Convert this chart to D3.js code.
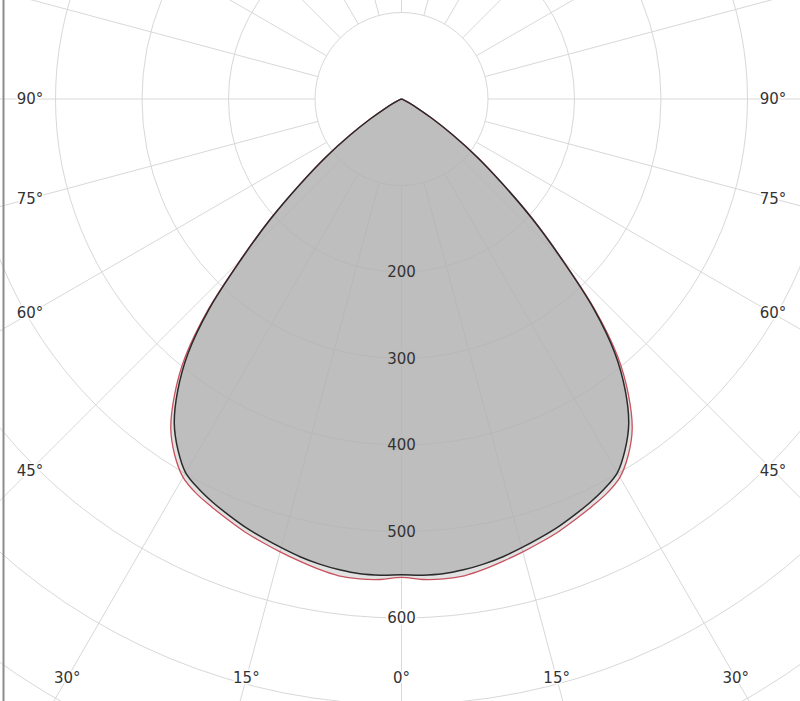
<!DOCTYPE html>
<html>
<head>
<meta charset="utf-8">
<script src="https://cdn.jsdelivr.net/npm/d3@7"></script>
<style>
  html, body { margin: 0; padding: 0; background: #fff; }
  svg { display: block; }
  text { font-family: "DejaVu Sans", Verdana, sans-serif; font-size: 15px; fill: #333; }
</style>
</head>
<body>
<svg id="chart" width="800" height="701"></svg>
<script>
// ---- data ----
const angles = [0, 2.5, 5, 7.5, 10, 12.5, 15, 17.5, 20, 22.5, 25, 27.5, 30, 32.5, 35, 37.5, 40,
                42.5, 45, 47.5, 50, 52.5, 55, 57.5, 60, 62.5, 65, 67.5, 70, 72.5, 75, 80, 85, 90];
// C0-C180 plane (black outline)
const planeBlack = [550, 551, 551, 549, 546, 542, 537, 532, 527, 521, 515, 508, 499, 481, 458, 425, 384,
                    329, 262, 205, 152, 110, 72, 42, 22, 11, 5, 2, 0, 0, 0, 0, 0, 0];
// C90-C270 plane (red outline)
const planeRed = [553, 556, 557, 556, 552, 547, 542, 537, 532, 526, 520, 514, 505, 488, 465, 431, 389,
                  332, 264, 207, 153, 111, 73, 43, 23, 12, 6, 3, 1, 0, 0, 0, 0, 0];
const ringValues = [100, 200, 300, 400, 500, 600, 700, 800, 900];
const ringLabels = [200, 300, 400, 500, 600];
const rayAngles = d3.range(0, 360, 15);
const angleLabels = [0, 15, 30, 45, 60, 75, 90];

// ---- layout ----
const W = 800, H = 701;
const cx = 401.5, cy = 99;
const r = d3.scaleLinear().domain([0, 100]).range([0, 86.5]);
const labelInsetX = 371.5, labelInsetY = 579;
const rad = d => d * Math.PI / 180;

const svg = d3.select("#chart");
const g = svg.append("g").attr("transform", `translate(${cx},${cy})`);

// grid rings
g.append("g").selectAll("circle").data(ringValues).join("circle")
  .attr("r", d => r(d)).attr("fill", "none")
  .attr("stroke", "#d8d8d8").attr("stroke-width", 1);

// grid rays (start at 100 ring), angle measured from nadir
g.append("g").selectAll("line").data(rayAngles).join("line")
  .attr("x1", d => r(100) * Math.sin(rad(d)))
  .attr("y1", d => r(100) * Math.cos(rad(d)))
  .attr("x2", d => 1000 * Math.sin(rad(d)))
  .attr("y2", d => 1000 * Math.cos(rad(d)))
  .attr("stroke", "#d8d8d8").attr("stroke-width", 1);

// curves
function pts(vals) {
  const left = angles.map((a, i) => [Math.PI + rad(a), r(vals[i])]).reverse();
  const right = angles.map((a, i) => [Math.PI - rad(a), r(vals[i])]).slice(1);
  return left.concat(right);
}
const line = d3.lineRadial().curve(d3.curveCatmullRomClosed.alpha(0.5));

const series = [
  { vals: planeRed, stroke: "#c8525e", w: 1.3, fill: "#a0a0a0", op: 0.3 },
  { vals: planeBlack, stroke: "#2a2a2a", w: 1.5, fill: "#b4b4b4", op: 0.78 }
];
g.append("g").selectAll("path.fill").data(series).join("path")
  .attr("class", "fill")
  .attr("d", d => line(pts(d.vals)))
  .attr("fill", d => d.fill).attr("fill-opacity", d => d.op).attr("stroke", "none");
g.append("g").selectAll("path.stroke").data(series).join("path")
  .attr("class", "stroke")
  .attr("d", d => line(pts(d.vals)))
  .attr("fill", "none").attr("stroke", d => d.stroke).attr("stroke-width", d => d.w)
  .attr("stroke-linejoin", "round");

// ring labels along 0° ray
g.append("g").selectAll("text").data(ringLabels).join("text")
  .attr("x", 0).attr("y", d => r(d))
  .attr("text-anchor", "middle").attr("dominant-baseline", "central")
  .attr("stroke", d => d >= 600 ? "#ffffff" : "#bdbdbd")
  .attr("stroke-width", 4).attr("paint-order", "stroke")
  .text(d => d);

// angle labels at the edge of the plot area
function labelPos(a, side) {
  const s = Math.sin(rad(a)), c = Math.cos(rad(a));
  let t = Infinity;
  if (s > 1e-6) t = Math.min(t, labelInsetX / s);
  if (c > 1e-6) t = Math.min(t, labelInsetY / c);
  return [side * t * s, t * c];
}
const angleItems = [];
angleLabels.forEach(a => {
  if (a === 0) angleItems.push({ a, side: 1 });
  else { angleItems.push({ a, side: -1 }); angleItems.push({ a, side: 1 }); }
});
g.append("g").selectAll("text").data(angleItems).join("text")
  .attr("x", d => labelPos(d.a, d.side)[0])
  .attr("y", d => labelPos(d.a, d.side)[1])
  .attr("text-anchor", "middle").attr("dominant-baseline", "central")
  .attr("stroke", "#ffffff").attr("stroke-width", 3).attr("paint-order", "stroke")
  .text(d => d.a + "°");

// left frame line
svg.append("line").attr("x1", 3.5).attr("x2", 3.5).attr("y1", 0).attr("y2", H)
  .attr("stroke", "#8c8c8c").attr("stroke-width", 2);
</script>
</body>
</html>
